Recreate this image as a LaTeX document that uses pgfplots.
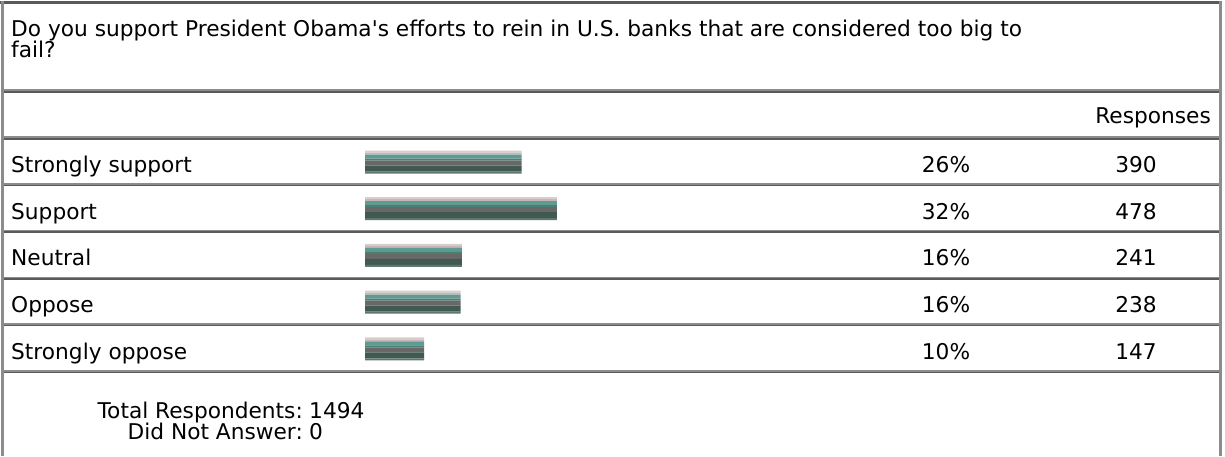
\documentclass[border=0pt]{standalone}
\usepackage{pgfplots}
\pgfplotsset{compat=1.18}
\usepackage{pgfplotstable}
\usepackage{fontspec}
\setmainfont{DejaVu Sans}[Ligatures=TeXOff]

\definecolor{sa}{HTML}{D9CDD0}
\definecolor{sb}{HTML}{C9B6B4}
\definecolor{sc}{HTML}{5F9B95}
\definecolor{sd}{HTML}{4B7F70}
\definecolor{se}{HTML}{686868}
\definecolor{sf}{HTML}{405A52}
\definecolor{sg}{HTML}{5F7772}
\definecolor{lnA}{HTML}{8C8C8C}
\definecolor{lnB}{HTML}{5A5A5A}

% percent of respondents, count, row index
\pgfplotstableread{
pct count row
26.10 390 0
31.99 478 1
16.13 241 2
15.93 238 3
9.84 147 4
}\data

\begin{document}
\begin{tikzpicture}
\useasboundingbox (0,0) rectangle (1225pt,-456pt);
\begin{axis}[at={(0,0)}, anchor=north west,
  width=1225pt, height=456pt, scale only axis, hide axis,
  xmin=-60.8333, xmax=143.3333, ymin=0, ymax=456, y dir=reverse, clip=false]
\addplot[xbar, bar width=2, bar shift=0pt, fill=sa, draw=none] table[x=pct, y expr={151.5+46.7*\thisrow{row}}] {\data};
\addplot[xbar, bar width=2, bar shift=0pt, fill=sb, draw=none] table[x=pct, y expr={153.5+46.7*\thisrow{row}}] {\data};
\addplot[xbar, bar width=4, bar shift=0pt, fill=sc, draw=none] table[x=pct, y expr={156.5+46.7*\thisrow{row}}] {\data};
\addplot[xbar, bar width=2, bar shift=0pt, fill=sd, draw=none] table[x=pct, y expr={159.5+46.7*\thisrow{row}}] {\data};
\addplot[xbar, bar width=5, bar shift=0pt, fill=se, draw=none] table[x=pct, y expr={163+46.7*\thisrow{row}}] {\data};
\addplot[xbar, bar width=6, bar shift=0pt, fill=sf, draw=none] table[x=pct, y expr={168.5+46.7*\thisrow{row}}] {\data};
\addplot[xbar, bar width=2, bar shift=0pt, fill=sg, draw=none] table[x=pct, y expr={172.5+46.7*\thisrow{row}}] {\data};
\end{axis}
\begin{scope}[x=1pt,y=-1pt, font=\fontsize{21.7}{21.7}\selectfont, every node/.style={inner sep=0pt}]
  % borders
  \foreach \yy in {91,138,184.7,231.4,278.1,324.8,371.5} {
    \draw[lnA, line width=1.6pt] (2,\yy-0.8) -- (1221,\yy-0.8);
    \draw[lnB, line width=1.6pt] (2,\yy+0.8) -- (1221,\yy+0.8);
  }
  \draw[lnB, line width=3pt] (0,2.5) -- (1222,2.5);
  \draw[lnA, line width=3pt] (2,1) -- (2,456);
  \draw[lnA, line width=3pt] (1220.5,1) -- (1220.5,456);
  % question
  \node[anchor=base west] at (11,36) {Do you support President Obama's efforts to rein in U.S. banks that are considered too big to};
  \node[anchor=base west] at (11,57) {fail?};
  \node[anchor=base east] at (1211,123.5) {Responses};
  % rows
  \foreach \lab/\pc/\n [count=\i from 0] in {Strongly support/26/390, Support/32/478, Neutral/16/241, Oppose/16/238, Strongly oppose/10/147} {
    \pgfmathsetmacro\yb{172.5+46.7*\i}
    \node[anchor=base west] at (11,\yb) {\lab};
    \node[anchor=base] at (946,\yb) {\pc\%};
    \node[anchor=base] at (1136,\yb) {\n};
  }
  % footer
  \node[anchor=base east] at (303,418) {Total Respondents:};
  \node[anchor=base west] at (309,418) {1494};
  \node[anchor=base east] at (303,439) {Did Not Answer:};
  \node[anchor=base west] at (309,439) {0};
\end{scope}
\end{tikzpicture}
\end{document}
